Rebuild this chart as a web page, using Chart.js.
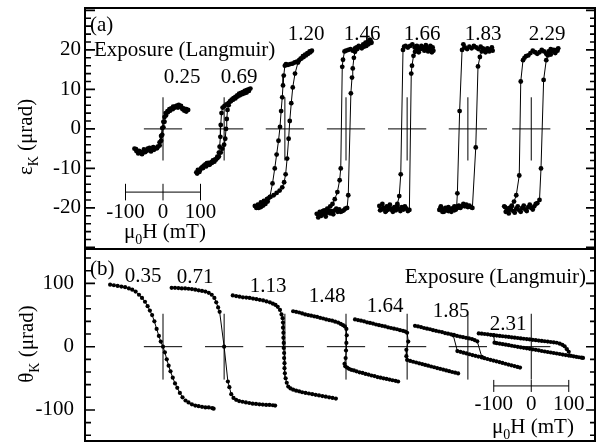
<!DOCTYPE html>
<html>
<head>
<meta charset="utf-8">
<title>Kerr hysteresis vs exposure</title>
<script src="https://cdn.jsdelivr.net/npm/chart.js@4.4.1/dist/chart.umd.min.js"></script>
<style>
  html, body { margin: 0; padding: 0; background: #fff; }
  #wrap { position: relative; width: 600px; height: 445px; }
  #ellip, #rot { position: absolute; left: 0; }
  #ellip { top: 0; }
  #rot { top: 247px; }
</style>
</head>
<body>
<div id="wrap">
  <canvas id="ellip" width="600" height="250"></canvas>
  <canvas id="rot" width="600" height="198"></canvas>
</div>
<script>
// field offsets (mT) at which each loop is centred along the shared axis
const loopCenters = [208, 371, 533, 696, 859, 1021, 1190];

// exposures, in Langmuir
const exposuresA = ['0.25', '0.69', '1.20', '1.46', '1.66', '1.83', '2.29'];
const exposuresB = ['0.35', '0.71', '1.13', '1.48', '1.64', '1.85', '2.31'];

const epsTicks = [-20, -10, 0, 10, 20];
const thetaTicks = [-100, 0, 100];
const scaleBarTicks = [-100, 0, 100];

// (a) Kerr ellipticity loops, [H (mT), eps (urad)]
const loopA025 = [
  [-76,-5],[-71,-5.6],[-66,-6.2],[-61,-5.8],[-56,-6],[-51,-5.2],[-46,-5.7],[-41,-5],[-36,-4.8],[-31,-5.3],[-26,-4.6],[-20,-4.9],
  [-14,-4.5],[-9,-3.4],[-5,-1.8],[-2,0.2],[1,1.8],[4,3],[7,4],[12,4.5],[17,5],[22,5.2],[27,5.6],[32,5.4],[37,5.9],[42,6.1],
  [47,5.6],[52,5],[57,4.6],[62,5],[67,4.8],[62,4.4],[55,5.2],[48,5.8],[40,5.4],[33,5.7],[26,5],[19,4.6],[13,4.2],[8,3.4],
  [4,1.8],[1,0.4],[-2,-1.5],[-5,-3],[-9,-4.2],[-16,-4.9],[-24,-5.3],[-32,-5.7],[-40,-5.4],[-48,-5.9],[-56,-6.4],[-64,-5.6],[-72,-5.1]
];
const loopA069 = [
  [-74,-11],[-70,-10.4],[-66,-10.9],[-62,-10],[-58,-9.6],[-54,-9.3],[-50,-9],[-46,-8.7],[-42,-8.6],[-38,-9],[-34,-8.4],[-30,-8],
  [-26,-8.3],[-22,-7.8],[-18,-7.4],[-14,-7],[-9,-6],[-5,-5],[0,-4],[3,-2.5],[5,0],[7,2.5],[9,4.8],[12,6],[16,7],[20,7.4],
  [25,7.8],[30,8.1],[35,8.5],[40,8.9],[45,9.1],[50,9.3],[55,9.6],[60,9.8],[65,10],[70,10.2],
  [66,9.6],[60,9.2],[54,9],[48,8.8],[42,8.5],[36,8.2],[30,7.7],[24,7.4],[18,7],[12,6.6],[6,6.2],[1,5.8],[-4,5.4],[-7,4],
  [-9,1],[-10,-2],[-12,-4.5],[-14,-6],[-18,-7],[-24,-7.7],[-32,-8.6],[-40,-9.1],[-48,-9.5],[-56,-9.9],[-64,-10.4],[-72,-11.3]
];
const loopA120 = [
  [-80,-19.5],[-76,-20],[-72,-19.2],[-68,-19.6],[-64,-18.6],[-60,-18.8],[-56,-18.2],[-52,-18.4],[-48,-17.8],[-44,-17.6],
  [-38,-17.2],[-30,-16.8],[-22,-16.2],[-14,-15.6],[-7,-14.8],[-2,-13.5],[2,-11.5],[6,-7.5],[10,-2.5],[13,2],[17,6.5],
  [21,10.5],[27,14],[35,16.8],[42,17.8],[48,18.4],[54,18.8],[60,19.2],[66,19.6],[72,19.8],
  [68,19.4],[62,19],[56,18.6],[50,18.2],[44,17.8],[38,17.4],[32,17],[26,16.8],[20,16.5],[14,16.4],[8,16.2],[3,16.4],
  [0,16],[-3,13.5],[-5,11],[-7,8],[-10,4.5],[-13,0.5],[-17,-3],[-22,-6.5],[-27,-10],[-33,-13.8],[-40,-17.2],[-46,-18.4],
  [-52,-19],[-58,-19.4],[-64,-19.8],[-70,-20],[-76,-19.6]
];
const loopA146 = [
  [-78,-21.5],[-74,-22.4],[-70,-21],[-66,-22],[-62,-20.8],[-58,-21.6],[-54,-22.2],[-50,-21.2],[-46,-20.6],[-42,-21.4],
  [-38,-20.8],[-34,-21.6],[-30,-20.6],[-26,-20.2],[-22,-21],[-18,-20.4],[-14,-21],[-10,-20.8],[-6,-20.6],[-2,-20.2],
  [3,-20],[6,-16.8],[13,9],[16,13],[18,15.3],[21,18],[24,19.5],[28,20.6],[34,21],[40,20.6],[46,21.4],[52,21.8],[58,22],
  [64,22.6],[68,21.8],
  [66,22.2],[60,21.4],[54,21],[48,20.8],[42,20.4],[36,20.8],[30,20.2],[24,20.4],[18,19.8],[12,20.2],[6,20],[0,19.8],
  [-4,19.6],[-8,17.5],[-10,15.7],[-14,-10],[-17,-13],[-23,-16],[-30,-17.8],[-36,-19],[-42,-19.6],[-50,-20.2],[-58,-20.6],
  [-66,-21.2],[-74,-21.6]
];
const loopA166 = [
  [-74,-19.5],[-70,-20.5],[-66,-19],[-62,-20],[-58,-21],[-54,-19.6],[-50,-20.4],[-46,-19.2],[-42,-20.2],[-38,-21],
  [-34,-19.8],[-30,-20.6],[-26,-19.4],[-22,-20.2],[-18,-20.8],[-14,-19.8],[-10,-20.4],[-6,-19.6],[-2,-20.2],[2,-20.8],
  [6,-20.5],[11,14],[13,16],[17,18.5],[21,19.5],[26,20],[31,19.4],[36,20.2],[41,20.6],[46,19.8],[51,20.4],[56,19.6],
  [61,20.2],[66,19.4],[70,19.8],
  [68,20.6],[62,21],[56,20.4],[50,21.2],[44,20.6],[38,21],[32,20.4],[26,21],[20,20.6],[14,21.4],[8,21],[2,20.6],[-4,21],
  [-8,20.8],[-11,20],[-17,-11.5],[-21,-17],[-26,-19],[-32,-19.8],[-40,-20.6],[-48,-20],[-56,-20.8],[-64,-20.2],[-72,-20.6]
];
const loopA183 = [
  [-76,-20.5],[-72,-19.6],[-68,-20.4],[-64,-21],[-60,-20],[-56,-20.6],[-52,-19.8],[-48,-20.4],[-44,-21],[-40,-20.2],
  [-36,-19.6],[-32,-20.4],[-28,-20],[-24,-19.4],[-20,-20],[-16,-19.6],[-12,-19],[-8,-19.6],[-4,-19.2],[0,-19.8],[4,-19.4],
  [8,-19.8],[12,-20],[21,-4.7],[27,15.8],[32,18.2],[37,19.6],[42,20.2],[47,19.4],[52,20],[57,19.6],[62,20.2],[66,19.8],
  [64,20.6],[58,20],[52,20.4],[46,19.8],[40,20.4],[34,20.8],[28,20.2],[22,20.6],[16,21],[10,20.4],[4,20.8],[-2,20.2],
  [-8,20.6],[-12,21.4],[-15.5,20],[-22,4.5],[-28,-16.3],[-30,-19.7],[-36,-20.6],[-44,-20.2],[-52,-20.8],[-60,-20.4],
  [-68,-21],[-74,-20.2]
];
const loopA229 = [
  [-72,-19.6],[-68,-21],[-64,-20.2],[-60,-21.4],[-56,-20.4],[-52,-19.6],[-48,-20.8],[-44,-21.2],[-40,-20.2],[-36,-19.6],
  [-32,-20.6],[-28,-21],[-24,-20],[-20,-19.4],[-16,-20.4],[-12,-20.8],[-8,-19.8],[-4,-19.2],[0,-20],[4,-20.4],[8,-19.6],
  [12,-19],[16,-18.8],[22,-18],[26,-10],[33,12.4],[40,17.4],[44,18.6],[48,19.4],[52,18.8],[56,19.6],[60,20],[64,19.4],
  [68,20],[72,20.4],
  [70,19.8],[64,19.2],[58,19.8],[52,20.2],[46,19.6],[40,19],[34,19.6],[28,20],[22,19.4],[16,19],[10,19.4],[4,19.8],
  [-2,19.2],[-8,18.6],[-14,18.4],[-18,18],[-22,17.4],[-28,12],[-32,-11.8],[-40,-16.8],[-46,-18.4],[-52,-19.4],[-58,-20],
  [-64,-20.6],[-70,-19.8]
];

// (b) Kerr rotation loops, [H (mT), theta (urad)]
const loopB035 = [
  [-141,98],[-131,97],[-121,96],[-111,95],[-101,94],[-91,92],[-82,90],[-73,87],[-64,82],[-56,77],[-48,71],[-41,64],
  [-35,57],[-29,50],[-23,40],[-17,28],[-11,17],[-6,8],[0,0],[5,-9],[10,-20],[15,-30],[20,-39],[26,-49],[32,-58],[38,-65],
  [45,-73],[52,-80],[60,-85],[68,-88],[77,-91],[86,-93],[95,-94],[104,-95],[113,-96],[122,-96],[131,-97],[135,-98]
];
const loopB071 = [
  [-140,93],[-131,93],[-122,92.5],[-113,92],[-104,92],[-95,91.5],[-86,91],[-77,90],[-68,89],[-59,88],[-50,87],[-41,85],
  [-33,82],[-26,77],[-21,70],[-16,62],[-12,55],[0,0],[10,-55],[14,-64],[19,-75],[25,-81],[32,-84],[40,-86],[49,-87],
  [58,-88],[67,-89],[76,-90],[85,-90.5],[94,-91],[103,-91.5],[112,-92],[121,-92],[130,-92.5],[136,-93]
];
const loopB113 = [
  [-139,81],[-130,80],[-121,79],[-112,78],[-103,77.5],[-94,77],[-85,76],[-76,75],[-67,74],[-58,73],[-49,71.5],[-40,70],
  [-32,68],[-25,66],[-19,63],[-13,58],[-9,51],[-6,45],[-5,38],[-5,30],[-4,22],[-4,14],[-3,6],[-3,-2],[-2,-10],[-2,-18],
  [-1,-26],[-1,-34],[0,-42],[2,-50],[5,-57],[9,-63],[15,-66],[22,-68],[30,-69.5],[38,-70.5],[46,-72],[55,-73],[64,-74],
  [73,-75],[82,-76],[91,-77],[100,-78],[109,-79],[118,-80],[127,-81],[136,-82]
];
const loopB148 = [
  [-141,56],[-133,55],[-125,54],[-117,52.5],[-109,51],[-101,50],[-93,49],[-85,48],[-77,47],[-69,45.5],[-61,44.5],
  [-53,43],[-45,42],[-37,41],[-29,39.5],[-21,38],[-14,36],[-8,34],[-3,32],[1,28],[2,18],[1,6],[0,-6],[-1,-18],[-4,-27],
  [-2,-31],[3,-33],[8,-35],[14,-36.5],[21,-37.5],[28,-39],[36,-40.5],[44,-41.5],[52,-43],[60,-44],[68,-45.5],[76,-46.5],
  [84,-48],[92,-49],[100,-50],[108,-51],[116,-52],[124,-53],[132,-54],[139,-55]
];
const loopB164 = [
  [-139,43],[-131,42],[-123,41],[-115,40],[-107,38.5],[-99,37.5],[-91,36.5],[-83,35],[-75,34],[-67,33],[-59,32],
  [-51,30.5],[-43,29.5],[-35,28.5],[-27,27.5],[-19,26],[-11,25],[-5,24],[0,22],[3,8],[-2,-5],[-2,-15],[0,-21],[8,-22.5],
  [16,-23.8],[24,-25],[32,-26.3],[40,-27.5],[48,-28.8],[56,-30],[64,-31.3],[72,-32.5],[80,-33.8],[88,-35],[96,-36.2],
  [104,-37.5],[112,-38.7],[120,-40],[128,-41],[136,-42.3]
];
const loopB185 = [
  [-141,33],[-133,32],[-125,31],[-117,29.5],[-109,28.5],[-101,27.5],[-93,26],[-85,25],[-77,24],[-69,23],[-61,21.5],
  [-53,20.5],[-45,19.5],[-37,18.5],[-29,17],[-21,16],[-13,15],[-5,14],[3,13],[11,12],[18,10.5],[25,8.5],[37,-16],
  [44,-18.2],[52,-19.5],[60,-20.7],[68,-22],[76,-23.2],[84,-24.4],[92,-25.7],[100,-27],[108,-28.2],[116,-29.4],
  [124,-30.7],[132,-32],[139,-33]
];
const loopB185Return = [
  [37,-17],[28,-15.7],[20,-14.5],[12,-13.2],[4,-12],[-4,-10.7],[-12,-9.5],[-20,-8.2],[-28,-7],[-39,18]
];
const loopB231 = [
  [-140,21],[-132,20.5],[-124,20],[-116,19.5],[-108,18.8],[-100,18.2],[-92,17.6],[-84,17],[-76,16.5],[-68,15.9],
  [-60,15.4],[-52,14.8],[-44,14.2],[-36,13.7],[-28,13.1],[-20,12.5],[-12,12],[-4,11.4],[4,10.8],[12,10.3],[20,9.7],
  [28,9.1],[36,8.6],[44,8],[52,7.4],[60,6.8],[68,6.2],[76,4.8],[83,3],[89,0.6],[95,-4],[100,-8],[106,-14.5],
  [113,-15.2],[120,-16],[127,-16.7],[134,-17.4],[138,-17.8]
];
const loopB231Return = [
  [100,-14],[92,-13.2],[84,-12.4],[76,-11.6],[68,-10.8],[60,-10],[52,-9.2],[44,-8.4],[36,-7.6],[28,-6.8],[20,-5.8],
  [12,-5],[4,-4.2],[-4,-3.4],[-12,-2.6],[-20,-1.8],[-28,-1],[-36,-0.2],[-44,0.7],[-52,1.5],[-60,2.3],[-68,3.1],
  [-76,3.9],[-84,4.8],[-92,5.6],[-98,6.3],[-100,18]
];

const loopsA = [loopA025, loopA069, loopA120, loopA146, loopA166, loopA183, loopA229];
const loopsB = [
  [loopB035], [loopB071], [loopB113], [loopB148], [loopB164],
  [loopB185, loopB185Return], [loopB231, loopB231Return]
];

const SERIF = '"Liberation Serif", "Times New Roman", serif';
const FS = 21;

function dotted(points, center, radius) {
  return {
    data: points.map(([h, v]) => ({ x: center + h, y: v })),
    showLine: true,
    borderColor: '#000',
    backgroundColor: '#000',
    borderWidth: 1,
    pointRadius: radius,
    pointBorderWidth: 0,
  };
}

function segment(x0, y0, x1, y1) {
  return {
    data: [{ x: x0, y: y0 }, { x: x1, y: y1 }],
    showLine: true,
    borderColor: '#000',
    borderWidth: 1,
    pointRadius: 0,
  };
}

// text with optional subscript runs: parts = [[text, isSub], ...]
function drawRuns(ctx, parts, x, y, size, align) {
  const sub = Math.round(size * 0.68);
  const widths = parts.map(([t, s]) => {
    ctx.font = `${s ? sub : size}px ${SERIF}`;
    return ctx.measureText(t).width;
  });
  const total = widths.reduce((a, b) => a + b, 0);
  let cx = align === 'center' ? x - total / 2 : align === 'right' ? x - total : x;
  ctx.textAlign = 'left';
  parts.forEach(([t, s], i) => {
    ctx.font = `${s ? sub : size}px ${SERIF}`;
    ctx.fillText(t, cx, s ? y + size * 0.3 : y);
    cx += widths[i];
  });
}

// inward ticks on both sides plus the heavy frame
function framePlugin(from, to, minor, major) {
  return {
    id: 'frame',
    afterDraw(chart) {
      const { ctx, chartArea: a } = chart;
      const y = chart.scales.y;
      ctx.save();
      ctx.strokeStyle = '#000';
      ctx.lineWidth = 1.6;
      for (let v = from; v <= to; v += minor) {
        const py = y.getPixelForValue(v);
        const len = Math.abs(v % major) < 1e-9 ? 10 : 6;
        ctx.beginPath();
        ctx.moveTo(a.left, py);
        ctx.lineTo(a.left + len, py);
        ctx.moveTo(a.right, py);
        ctx.lineTo(a.right - len + 1, py);
        ctx.stroke();
      }
      ctx.lineWidth = 2;
      ctx.strokeRect(a.left, a.top, a.right - a.left, a.bottom - a.top);
      ctx.restore();
    }
  };
}

function buildDatasets(groups, radius, crossV, bar) {
  const ds = [];
  groups.forEach((paths, i) => {
    paths.forEach(p => ds.push(dotted(p, loopCenters[i], radius)));
  });
  loopCenters.forEach(c => {
    ds.push(segment(c - 51, 0, c + 51, 0));
    ds.push(segment(c, -crossV, c, crossV));
  });
  const c0 = loopCenters[bar.loop];
  ds.push(segment(c0 + scaleBarTicks[0], bar.level, c0 + scaleBarTicks[scaleBarTicks.length - 1], bar.level));
  scaleBarTicks.forEach(t => ds.push(segment(c0 + t, bar.level - bar.tick, c0 + t, bar.level + bar.tick)));
  return ds;
}

function panelOptions(yMin, yMax, ticks, pad, labelPad) {
  return {
    responsive: false,
    animation: false,
    events: [],
    layout: { padding: pad, autoPadding: false },
    plugins: { legend: { display: false }, tooltip: { enabled: false } },
    scales: {
      x: { type: 'linear', min: 0, max: 1360, display: false },
      y: {
        type: 'linear',
        min: yMin,
        max: yMax,
        afterFit: s => {
          s.width = 85;
          s.paddingTop = 0;
          s.paddingBottom = 0;
        },
        afterBuildTicks: s => { s.ticks = ticks.map(v => ({ value: v })); },
        grid: { display: false, drawTicks: false },
        border: { display: false },
        ticks: { color: '#000', padding: labelPad, font: { family: SERIF, size: FS } },
      },
    },
  };
}

// (a) ellipticity
new Chart(document.getElementById('ellip'), {
  type: 'scatter',
  data: { datasets: buildDatasets(loopsA.map(l => [l]), 2.4, 8, { loop: 0, level: -16, tick: 2.1 }) },
  options: panelOptions(-30.4, 30.6, epsTicks, { left: 0, right: 5, top: 8, bottom: 1 }, 4),
  plugins: [framePlugin(-30, 30, 2, 10), {
    id: 'textA',
    afterDraw(chart) {
      const { ctx } = chart;
      const xs = chart.scales.x;
      const spots = [[182, 83], [239, 83], [306, 40], [362, 40], [422, 40], [483, 40], [547, 40]];
      ctx.save();
      ctx.fillStyle = '#000';
      ctx.textBaseline = 'alphabetic';
      drawRuns(ctx, [['(a)', false]], 90, 31, FS, 'left');
      drawRuns(ctx, [['Exposure (Langmuir)', false]], 94, 56, FS, 'left');
      exposuresA.forEach((t, i) => drawRuns(ctx, [[t, false]], spots[i][0], spots[i][1], FS, 'center'));
      scaleBarTicks.forEach(t => {
        drawRuns(ctx, [[String(t), false]], xs.getPixelForValue(loopCenters[0] + t), 218, FS, 'center');
      });
      drawRuns(ctx, [['μ', false], ['0', true], ['H (mT)', false]], 165, 238, FS, 'center');
      ctx.translate(26, 137);
      ctx.rotate(-Math.PI / 2);
      drawRuns(ctx, [['ε', false], ['K', true], [' (μrad)', false]], 0, 6, FS, 'center');
      ctx.restore();
    }
  }]
});

// (b) rotation
new Chart(document.getElementById('rot'), {
  type: 'scatter',
  data: { datasets: buildDatasets(loopsB, 2.1, 52, { loop: 6, level: -62, tick: 9.5 }) },
  options: panelOptions(-149, 154.3, thetaTicks, { left: 0, right: 5, top: 2, bottom: 4 }, 11),
  plugins: [framePlugin(-140, 140, 20, 100), {
    id: 'textB',
    afterDraw(chart) {
      const { ctx } = chart;
      const xs = chart.scales.x;
      const top = 247;
      const spots = [[143, 282], [195, 283], [268, 292], [327, 302], [385, 312], [451, 317], [508, 330]];
      ctx.save();
      ctx.fillStyle = '#000';
      ctx.textBaseline = 'alphabetic';
      drawRuns(ctx, [['(b)', false]], 90, 275 - top, FS, 'left');
      drawRuns(ctx, [['Exposure (Langmuir)', false]], 586, 283 - top, FS, 'right');
      exposuresB.forEach((t, i) => drawRuns(ctx, [[t, false]], spots[i][0], spots[i][1] - top, FS, 'center'));
      scaleBarTicks.forEach(t => {
        drawRuns(ctx, [[String(t), false]], xs.getPixelForValue(loopCenters[6] + t), 410 - top, FS, 'center');
      });
      drawRuns(ctx, [['μ', false], ['0', true], ['H (mT)', false]], 533, 433 - top, FS, 'center');
      ctx.translate(27, 344 - top);
      ctx.rotate(-Math.PI / 2);
      drawRuns(ctx, [['θ', false], ['K', true], [' (μrad)', false]], 0, 6, FS, 'center');
      ctx.restore();
    }
  }]
});
</script>
</body>
</html>
